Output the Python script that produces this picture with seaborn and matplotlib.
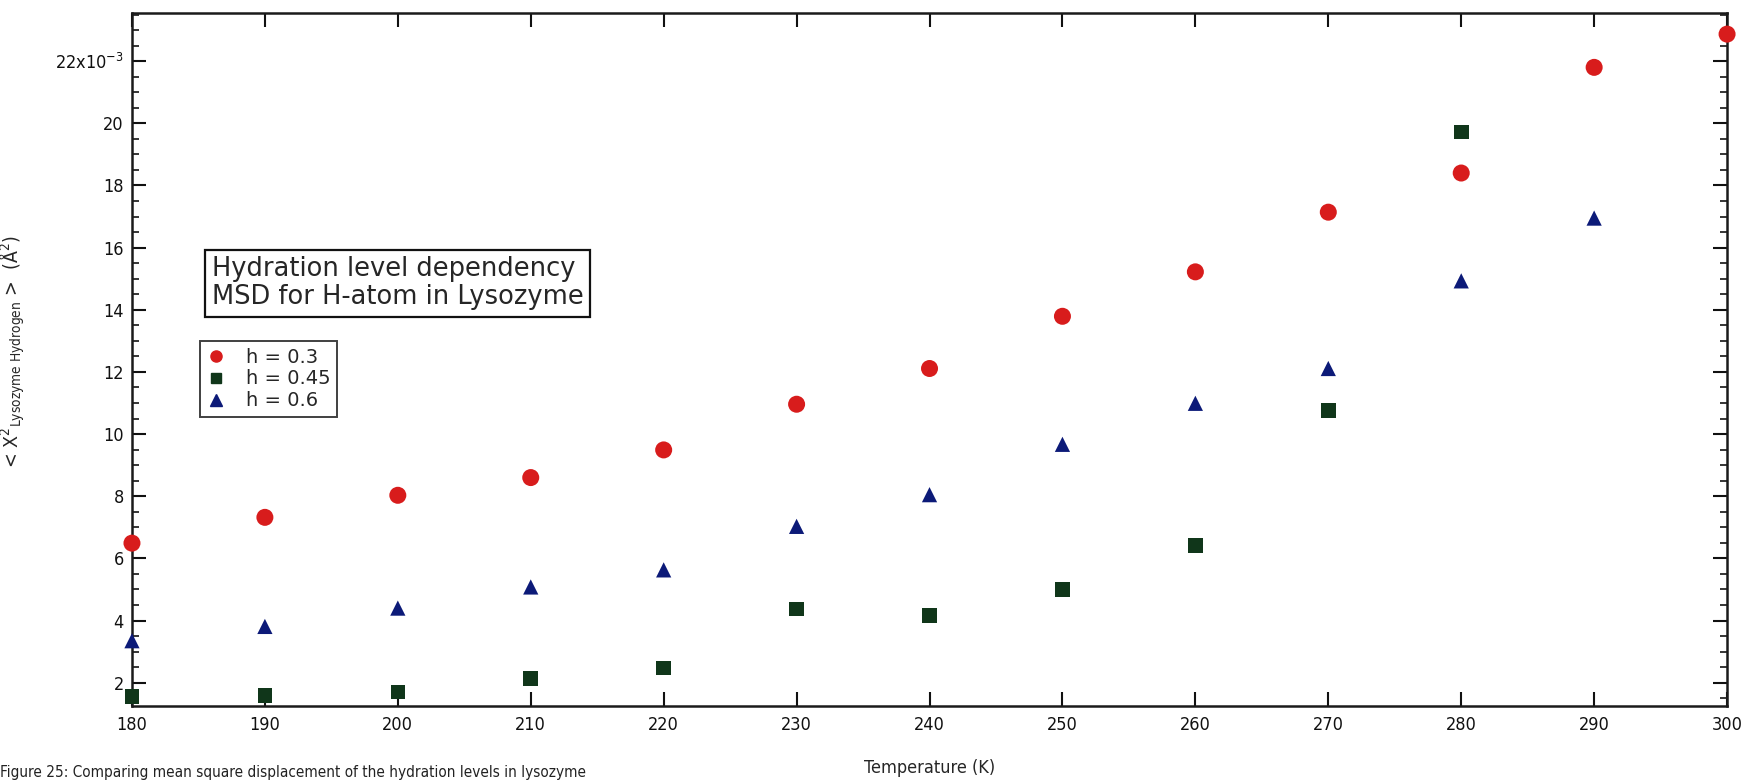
import matplotlib
matplotlib.use("Agg")
import matplotlib.pyplot as plt
import matplotlib.ticker as mticker
from matplotlib.lines import Line2D
import seaborn as sns
import pandas as pd

# ---- data (values in 10^-3 Å^2) ----
temps_h03 = [180, 190, 200, 210, 220, 230, 240, 250, 260, 270, 280, 290, 300]
msd_h03 = [6.49, 7.32, 8.03, 8.60, 9.49, 10.96, 12.11, 13.79, 15.22, 17.14, 18.40, 21.80, 22.87]

temps_h045 = [180, 190, 200, 210, 220, 230, 240, 250, 260, 270, 280]
msd_h045 = [1.56, 1.58, 1.70, 2.13, 2.47, 4.37, 4.17, 4.99, 6.42, 10.75, 19.72]

temps_h06 = [180, 190, 200, 210, 220, 230, 240, 250, 260, 270, 280, 290]
msd_h06 = [3.35, 3.81, 4.40, 5.08, 5.63, 7.03, 8.05, 9.67, 10.99, 12.11, 14.93, 16.95]

series_labels = ["h = 0.3", "h = 0.45", "h = 0.6"]
x_ticks = list(range(180, 301, 10))
y_ticks = list(range(2, 23, 2))

sns.set_style("ticks")
plt.rcParams["font.family"] = ["DejaVu Sans"]
plt.rcParams["font.stretch"] = "condensed"

df = pd.concat([
    pd.DataFrame({"T": temps_h03, "msd": msd_h03, "series": series_labels[0]}),
    pd.DataFrame({"T": temps_h045, "msd": msd_h045, "series": series_labels[1]}),
    pd.DataFrame({"T": temps_h06, "msd": msd_h06, "series": series_labels[2]}),
])

colors = {series_labels[0]: "#d81c1c", series_labels[1]: "#10361a", series_labels[2]: "#0c1a78"}
markers = {series_labels[0]: "o", series_labels[1]: "s", series_labels[2]: "^"}
sizes = {series_labels[0]: 150, series_labels[1]: 110, series_labels[2]: 120}

fig = plt.figure(figsize=(17.41, 7.82), dpi=100)
ax = fig.add_axes([0.0758, 0.0972, 0.9162, 0.8862])

for lab in series_labels:
    sub = df[df["series"] == lab]
    sns.scatterplot(data=sub, x="T", y="msd", ax=ax, color=colors[lab],
                    marker=markers[lab], s=sizes[lab], edgecolor="none",
                    legend=False, clip_on=False, zorder=3)

ax.set_xlim(180, 300)
ax.set_ylim(1.25, 23.55)
ax.set_xticks(x_ticks)
ax.set_yticks(y_ticks)
ax.yaxis.set_minor_locator(mticker.MultipleLocator(0.5))

def yfmt(v, pos):
    if abs(v - 22) < 1e-6:
        return "22x10$^{-3}$"
    return f"{int(round(v))}"
ax.yaxis.set_major_formatter(mticker.FuncFormatter(yfmt))

ax.tick_params(axis="both", which="major", direction="in", length=10, width=1.5,
               top=True, right=True, labelsize=13, colors="#111111")
ax.tick_params(axis="y", which="minor", direction="in", length=5, width=1.3,
               left=True, right=True)
ax.tick_params(axis="x", which="major", pad=7)
ax.tick_params(axis="y", which="major", pad=6)
for sp in ax.spines.values():
    sp.set_visible(True)
    sp.set_linewidth(1.8)
    sp.set_color("#1a1a1a")

ax.set_xlabel("Temperature (K)", fontsize=13, labelpad=18)
ax.set_ylabel(r"< X$^{2}$$_{\rm Lysozyme\ Hydrogen}$ >  (Å$^{2}$)", fontsize=14)
ax.yaxis.set_label_coords(-0.066, 0.512)

ax.text(0.0500, 0.610, "Hydration level dependency\nMSD for H-atom in Lysozyme",
        transform=ax.transAxes, ha="left", va="center", fontsize=18.5,
        family=["DejaVu Sans"], stretch="normal", linespacing=1.1,
        bbox=dict(boxstyle="square,pad=0.25", facecolor="white",
                  edgecolor="#111111", linewidth=1.6), zorder=5)

handles = [Line2D([], [], linestyle="none", marker=markers[l], color=colors[l],
                  markersize=8 if markers[l] != "s" else 7, label=l)
           for l in series_labels]
leg = ax.legend(handles=handles, loc="upper left", bbox_to_anchor=(0.0426, 0.527),
                borderaxespad=0, frameon=True, fancybox=False,
                prop={"family": "DejaVu Sans", "size": 14, "stretch": "normal"},
                handletextpad=1.0, labelspacing=0.15, borderpad=0.35,
                handlelength=1.0)
leg.get_frame().set_edgecolor("#111111")
leg.get_frame().set_linewidth(1.4)

fig.text(0.0, 0.003, "Figure 25: Comparing mean square displacement of the hydration levels in lysozyme",
         ha="left", va="bottom", fontsize=11, family=["DejaVu Sans"], color="#222222")

fig.savefig("out.png", dpi=100, facecolor="white")
